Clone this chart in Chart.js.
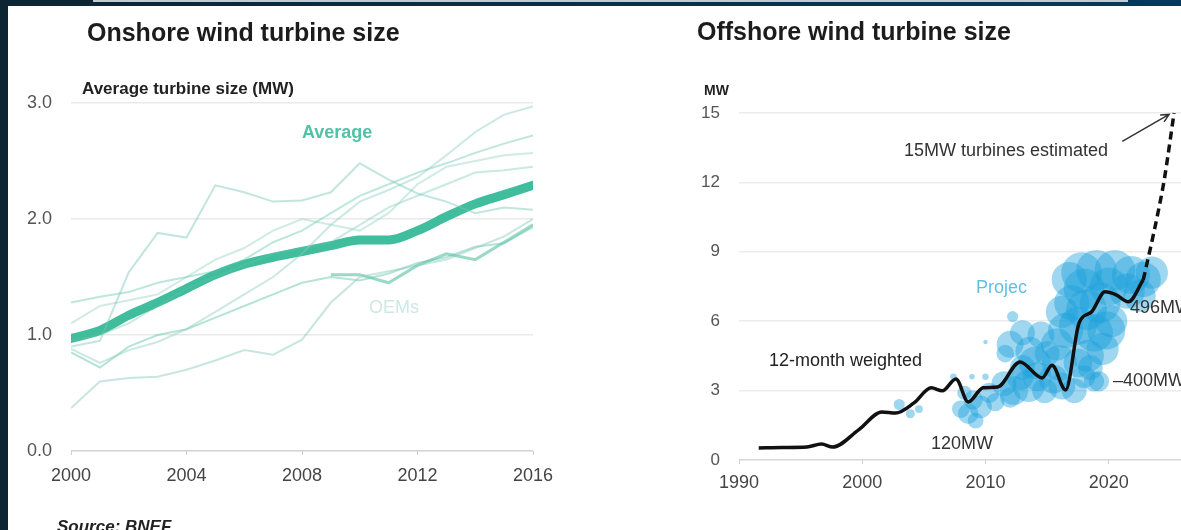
<!DOCTYPE html>
<html lang="en">
<head>
<meta charset="UTF-8">
<title>Wind turbine size</title>
<script src="https://cdn.jsdelivr.net/npm/chart.js"></script>
<style>
  html, body { margin: 0; padding: 0; }
  body {
    width: 1181px; height: 530px; overflow: hidden; position: relative;
    background: #fff;
    font-family: 'Liberation Sans', Arial, Helvetica, sans-serif;
  }
  canvas { position: absolute; top: 0; }
  #onshore { left: 0; }
  #offshore { left: 600px; }
  /* dark page frame around the pasted picture */
  .frame-left { position: absolute; left: 0; top: 0; width: 8px; height: 530px; background: #0d2433; }
  .frame-top { position: absolute; left: 0; top: 0; width: 1181px; height: 6px; background: linear-gradient(90deg, #0d2433, #063a58); }
  .frame-line { position: absolute; left: 93px; top: 0; width: 1035px; height: 2px; background: #c3cbd1; }
  .lbl { position: absolute; white-space: nowrap; line-height: 1; color: #333; }
  .title { font-size: 25px; font-weight: bold; color: #1c1c1c; }
  .note { font-size: 18px; }
</style>
</head>
<body>

<canvas id="onshore" width="600" height="530" style="width:600px;height:530px"></canvas>
<canvas id="offshore" width="660" height="530" style="width:660px;height:530px"></canvas>

<div class="frame-left"></div>
<div class="frame-top"></div>
<div class="frame-line"></div>

<!-- Onshore texts -->
<div class="lbl title" style="left:87px;top:20px">Onshore wind turbine size</div>
<div class="lbl" style="left:82px;top:80px;font-size:17px;font-weight:bold;color:#222">Average turbine size (MW)</div>
<div class="lbl" style="left:302px;top:123px;font-size:18px;font-weight:bold;color:#52c2a7">Average</div>
<div class="lbl note" style="left:369px;top:298px;color:#cfe8e1">OEMs</div>
<div class="lbl" style="left:57px;top:518px;font-size:17px;font-weight:bold;font-style:italic;color:#222">Source: BNEF</div>

<!-- Offshore texts -->
<div class="lbl title" style="left:697px;top:19px">Offshore wind turbine size</div>
<div class="lbl" style="left:704px;top:83px;font-size:14px;font-weight:bold;color:#222">MW</div>
<div class="lbl note" style="left:904px;top:141px">15MW turbines estimated</div>
<div class="lbl note" style="left:769px;top:351px;color:#222">12-month weighted</div>
<div class="lbl note" style="left:931px;top:434px">120MW</div>
<div class="lbl note" style="left:976px;top:278px;color:#62bfe4">Projec</div>
<div class="lbl note" style="left:1130px;top:298px">496MW</div>
<div class="lbl note" style="left:1113px;top:371px">–400MW</div>

<script>
  // ---------- Onshore data (MW per year, 2000-2016) ----------
  const onshoreYears = [2000, 2001, 2002, 2003, 2004, 2005, 2006, 2007, 2008, 2009, 2010, 2011, 2012, 2013, 2014, 2015, 2016];
  const onshoreAverage = [0.97, 1.04, 1.17, 1.28, 1.40, 1.52, 1.61, 1.67, 1.72, 1.77, 1.82, 1.82, 1.90, 2.02, 2.13, 2.21, 2.29];

  // individual manufacturers (OEMs)
  const oemA = [0.90, 0.95, 1.54, 1.88, 1.84, 2.29, 2.23, 2.15, 2.16, 2.23, 2.48, 2.34, 2.22, 2.15, 2.05, 2.10, 2.08];
  const oemB = [0.88, 0.76, 0.87, 0.94, 1.05, 1.20, 1.35, 1.50, 1.70, 1.95, 2.15, 2.25, 2.36, 2.55, 2.75, 2.90, 2.97];
  const oemC = [1.28, 1.33, 1.37, 1.45, 1.50, 1.55, 1.65, 1.80, 1.90, 2.05, 2.20, 2.30, 2.40, 2.48, 2.57, 2.65, 2.72];
  const oemD = [1.10, 1.25, 1.30, 1.35, 1.50, 1.65, 1.75, 1.90, 2.00, 1.95, 1.90, 2.05, 2.30, 2.45, 2.50, 2.55, 2.57];
  const oemE = [0.95, 1.00, 1.10, 1.25, 1.40, 1.50, 1.60, 1.70, 1.75, 1.80, 1.95, 2.10, 2.20, 2.30, 2.40, 2.42, 2.45];
  const oemF = [0.37, 0.60, 0.63, 0.64, 0.70, 0.78, 0.87, 0.83, 0.96, 1.28, 1.50, 1.55, 1.60, 1.65, 1.75, 1.85, 2.00];
  const oemG = [0.85, 0.72, 0.90, 1.00, 1.05, 1.15, 1.25, 1.35, 1.45, 1.50, 1.47, 1.53, 1.62, 1.67, 1.76, 1.79, 1.93];
  const oemH = [null, null, null, null, null, null, null, null, null, 1.52, 1.52, 1.45, 1.60, 1.70, 1.65, 1.80, 1.95];

  // ---------- Offshore data ----------
  const weightedYears = [1991.6, 1993.5, 1995.5, 1996.7, 1997.6, 1999.7, 2001.6, 2002.7, 2004.2, 2005.6, 2006.5, 2007.6, 2008.6, 2009.8, 2011.0, 2012.8, 2014.6, 2015.4, 2016.5, 2017.6, 2018.6, 2019.7, 2020.6, 2021.6, 2022.8];
  const weightedMW = [0.52, 0.54, 0.56, 0.69, 0.56, 1.30, 2.08, 2.03, 2.47, 3.12, 2.99, 3.50, 2.51, 3.12, 3.16, 4.24, 3.55, 4.10, 3.03, 5.93, 6.40, 7.27, 7.14, 6.84, 7.79];

  const estimateYears = [2022.8, 2023.4, 2024.0, 2024.5, 2025.3];
  const estimateMW = [7.79, 9.2, 10.7, 12.1, 15.0];

  // projects: commissioning year, turbine size (MW), project capacity (MW)
  const projectYears = [2003.0, 2003.9, 2004.6, 2007.4, 2008.9, 2010.0, 2010.0,
    2008.0, 2008.6, 2009.0, 2009.6, 2010.3, 2010.8, 2008.3, 2009.2,
    2011.5, 2012.3, 2012.8, 2013.5, 2013.0, 2014.2, 2014.8, 2015.5, 2016.2, 2017.2, 2018.0, 2018.8, 2012.0,
    2012.0, 2013.0, 2013.6, 2014.5, 2015.0, 2012.2, 2011.6,
    2015.8, 2016.5, 2016.2, 2017.0, 2017.5, 2018.2, 2018.8, 2019.3, 2019.5, 2018.3, 2017.5, 2020.2, 2020.0,
    2016.8, 2017.8, 2019.0, 2020.5, 2021.8, 2022.8, 2023.5, 2021.5, 2022.5,
    2018.5, 2019.2, 2018.0, 2019.8, 2016.0, 2014.0];
  const projectMW = [2.4, 2.0, 2.2, 3.6, 3.6, 3.6, 5.1,
    2.2, 2.0, 2.6, 2.3, 2.9, 2.5, 2.9, 1.7,
    3.3, 3.0, 3.6, 3.2, 4.0, 3.6, 3.0, 3.5, 3.2, 3.0, 3.6, 3.4, 2.7,
    5.0, 5.5, 4.7, 5.4, 4.6, 6.2, 4.6,
    5.0, 5.6, 6.4, 6.8, 5.8, 6.5, 5.5, 6.8, 4.8, 4.5, 4.2, 6.0, 7.5,
    7.8, 8.1, 8.2, 8.2, 8.0, 7.8, 8.1, 7.3, 7.1,
    4.0, 3.4, 7.4, 5.6, 4.2, 4.2];
  const projectCapacity = [60, 40, 30, 20, 15, 20, 10,
    150, 200, 180, 250, 200, 160, 100, 120,
    300, 400, 350, 500, 300, 400, 300, 400, 350, 300, 250, 200, 200,
    350, 300, 400, 350, 300, 60, 150,
    500, 600, 500, 600, 700, 800, 700, 800, 500, 500, 400, 500, 700,
    600, 800, 800, 800, 700, 600, 500, 600, 500,
    300, 200, 800, 700, 600, 500];

  const FONT = "'Liberation Sans', Arial, Helvetica, sans-serif";
  Chart.defaults.font.family = FONT;
  Chart.defaults.animation = false;
  Chart.defaults.devicePixelRatio = 1;
  Chart.defaults.plugins.legend.display = false;
  Chart.defaults.plugins.tooltip.enabled = false;

  function xy(xs, ys) {
    return xs.map((x, i) => ({ x: x, y: ys[i] }));
  }

  function oemSet(values, color, width) {
    return {
      data: xy(onshoreYears, values),
      borderColor: color,
      borderWidth: width || 2,
      pointRadius: 0,
      tension: 0,
      spanGaps: false
    };
  }

  // ---------- Onshore chart ----------
  new Chart(document.getElementById('onshore'), {
    type: 'line',
    data: {
      datasets: [
        oemSet(oemA, 'rgba(120,200,180,0.45)'),
        oemSet(oemB, 'rgba(140,205,190,0.45)'),
        oemSet(oemC, 'rgba(90,195,165,0.40)'),
        oemSet(oemD, 'rgba(150,210,195,0.45)'),
        oemSet(oemE, 'rgba(100,195,170,0.35)'),
        oemSet(oemF, 'rgba(130,200,185,0.45)'),
        oemSet(oemG, 'rgba(90,195,165,0.45)'),
        oemSet(oemH, 'rgba(70,185,155,0.55)', 3),
        {
          data: xy(onshoreYears, onshoreAverage),
          borderColor: '#3fbd9d',
          borderWidth: 9,
          pointRadius: 0,
          cubicInterpolationMode: 'monotone',
          borderCapStyle: 'round'
        }
      ]
    },
    options: {
      responsive: false,
      layout: { padding: { left: 0, top: 103, right: 67, bottom: 39 } },
      scales: {
        x: {
          type: 'linear', min: 2000, max: 2016,
          afterFit: s => { s.height = 40; },
          ticks: { stepSize: 4, padding: 10, color: '#444', font: { size: 18 }, callback: v => String(v) },
          grid: { drawOnChartArea: false, drawTicks: true, tickLength: 4, color: '#d0d0d0' },
          border: { display: false }
        },
        y: {
          min: 0, max: 3,
          afterFit: s => { s.width = 71; },
          ticks: { stepSize: 1, padding: 19, color: '#555', font: { size: 18 }, callback: v => v.toFixed(1) },
          grid: { drawTicks: false, color: c => c.tick.value === 0 ? '#d2d2d2' : '#e9e9e9', lineWidth: 1.5 },
          border: { display: false }
        }
      }
    }
  });

  // arrow pointing at the 15MW estimate
  const estimateArrow = {
    id: 'estimateArrow',
    afterDatasetsDraw(chart) {
      const xs = chart.scales.x, ys = chart.scales.y, ctx = chart.ctx;
      const x0 = xs.getPixelForValue(2021.1), y0 = ys.getPixelForValue(13.77);
      const x1 = xs.getPixelForValue(2024.9), y1 = ys.getPixelForValue(14.94);
      const a = Math.atan2(y1 - y0, x1 - x0);
      ctx.save();
      ctx.strokeStyle = '#333';
      ctx.lineWidth = 1.5;
      ctx.beginPath();
      ctx.moveTo(x0, y0);
      ctx.lineTo(x1, y1);
      ctx.moveTo(x1 - 9 * Math.cos(a - 0.45), y1 - 9 * Math.sin(a - 0.45));
      ctx.lineTo(x1, y1);
      ctx.lineTo(x1 - 9 * Math.cos(a + 0.45), y1 - 9 * Math.sin(a + 0.45));
      ctx.stroke();
      ctx.restore();
    }
  };

  // ---------- Offshore chart ----------
  new Chart(document.getElementById('offshore'), {
    type: 'bubble',
    data: {
      datasets: [
        {
          type: 'bubble',
          order: 3,
          data: projectYears.map((yr, i) => ({ x: yr, y: projectMW[i], r: Math.sqrt(projectCapacity[i]) * 0.72 })),
          backgroundColor: 'rgba(26,160,220,0.42)',
          borderWidth: 0
        },
        {
          type: 'line',
          order: 1,
          data: xy(weightedYears, weightedMW),
          borderColor: '#111',
          borderWidth: 3.5,
          pointRadius: 0,
          cubicInterpolationMode: 'monotone'
        },
        {
          type: 'line',
          order: 2,
          data: xy(estimateYears, estimateMW),
          borderColor: '#111',
          borderWidth: 3.5,
          borderDash: [8, 5],
          pointRadius: 0,
          cubicInterpolationMode: 'monotone'
        }
      ]
    },
    options: {
      responsive: false,
      clip: false,
      layout: { padding: { left: 0, top: 113, right: 25, bottom: 30 } },
      scales: {
        x: {
          type: 'linear', min: 1990, max: 2030,
          afterFit: s => { s.height = 40; },
          ticks: { stepSize: 10, padding: 8, color: '#444', font: { size: 18 }, callback: v => String(v) },
          grid: { drawOnChartArea: false, drawTicks: true, tickLength: 4, color: '#d0d0d0' },
          border: { display: false }
        },
        y: {
          min: 0, max: 15,
          afterFit: s => { s.width = 139; },
          ticks: { stepSize: 3, padding: 19, color: '#555', font: { size: 17 } },
          grid: { drawTicks: false, color: c => c.tick.value === 0 ? '#d6d6d6' : '#ececec', lineWidth: 1.5 },
          border: { display: false }
        }
      }
    },
    plugins: [estimateArrow]
  });
</script>
</body>
</html>
